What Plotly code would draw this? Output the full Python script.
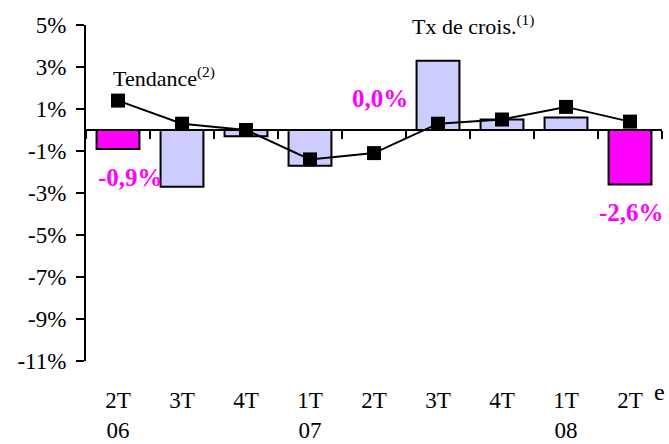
import plotly.graph_objects as go

categories = ["2T 06", "3T 06", "4T 06", "1T 07", "2T 07", "3T 07", "4T 07", "1T 08", "2T 08"]
tick_labels = ["2T<br>06", "3T", "4T", "1T<br>07", "2T", "3T", "4T", "1T<br>08", "2T"]
growth = [-0.9, -2.7, -0.3, -1.7, 0.0, 3.3, 0.5, 0.6, -2.6]
trend = [1.4, 0.3, 0.0, -1.4, -1.1, 0.3, 0.5, 1.1, 0.4]
highlight = [True, False, False, False, True, False, False, False, True]
y_ticks = [5, 3, 1, -1, -3, -5, -7, -9, -11]

MAGENTA = "#FF00FF"
LAVENDER = "#CCCCFF"
FONT = "Times New Roman, Liberation Serif, DejaVu Serif, serif"

bar_colors = [MAGENTA if h else LAVENDER for h in highlight]

fig = go.Figure()
fig.add_trace(go.Bar(
    x=categories, y=growth, marker=dict(color=bar_colors, line=dict(color="black", width=2)),
    width=0.67, showlegend=False, hoverinfo="skip"))
fig.add_trace(go.Scatter(
    x=categories, y=trend, mode="lines+markers",
    line=dict(color="black", width=2),
    marker=dict(symbol="square", size=14, color="black"),
    showlegend=False, hoverinfo="skip"))

# value labels for highlighted bars
label_shifts = {0: (12, -29), 4: (6, 32), 8: (1, -28)}
for i, h in enumerate(highlight):
    if h:
        xs, ys = label_shifts[i]
        txt = f"{growth[i]:.1f}%".replace(".", ",")
        fig.add_annotation(x=categories[i], y=growth[i], text=f"<b>{txt}</b>",
                           showarrow=False, xshift=xs, yshift=ys,
                           font=dict(family=FONT, size=25, color=MAGENTA))

fig.add_annotation(xref="paper", yref="paper", x=0.043, y=0.845, xanchor="left", yanchor="middle",
                   text="Tendance<sup>(2)</sup>", showarrow=False,
                   font=dict(family=FONT, size=22, color="black"))
fig.add_annotation(xref="paper", yref="paper", x=0.562, y=1.0, xanchor="left", yanchor="middle",
                   text="Tx de crois.<sup>(1)</sup>", showarrow=False,
                   font=dict(family=FONT, size=22, color="black"))
fig.add_annotation(x=categories[-1], xref="x", yref="paper", y=0, xanchor="center", yanchor="middle",
                   text="e", showarrow=False, xshift=29, yshift=-31,
                   font=dict(family=FONT, size=24, color="black"))

n = len(categories)
fig.update_layout(
    width=669, height=444,
    margin=dict(l=86, r=7, t=25, b=83, autoexpand=False),
    paper_bgcolor="white", plot_bgcolor="white",
    font=dict(family=FONT, size=23, color="black"),
    xaxis=dict(type="category", categoryarray=categories, range=[-0.5, n - 0.5],
               tickvals=categories, ticktext=tick_labels, ticks="", showline=False,
               showgrid=False, zeroline=False, ticklabelstandoff=23, automargin=False,
               tickfont=dict(family=FONT, size=23)),
    xaxis2=dict(overlaying="x", anchor="free", position=11 / 16, range=[-0.5, n - 0.5],
                tickvals=[i - 0.5 for i in range(n + 1)], ticks="outside", ticklen=8,
                tickwidth=2, tickcolor="black", showline=True, linecolor="black", linewidth=2,
                showticklabels=False, showgrid=False, zeroline=False, layer="below traces",
                automargin=False),
    yaxis=dict(range=[-11, 5], tickvals=y_ticks, ticktext=[f"{v}%" for v in y_ticks],
               ticks="outside", ticklen=8, tickwidth=2, tickcolor="black",
               showline=True, linecolor="black", linewidth=2, showgrid=False, zeroline=False,
               ticklabelstandoff=5, automargin=False, tickfont=dict(family=FONT, size=23)),
)
# invisible helper so the zero-line axis is drawn
fig.add_trace(go.Scatter(x=[0], y=[None], xaxis="x2", showlegend=False, hoverinfo="skip"))

fig.write_html("out.html", config={"displayModeBar": False},
               post_script="document.body.style.margin='0';")
